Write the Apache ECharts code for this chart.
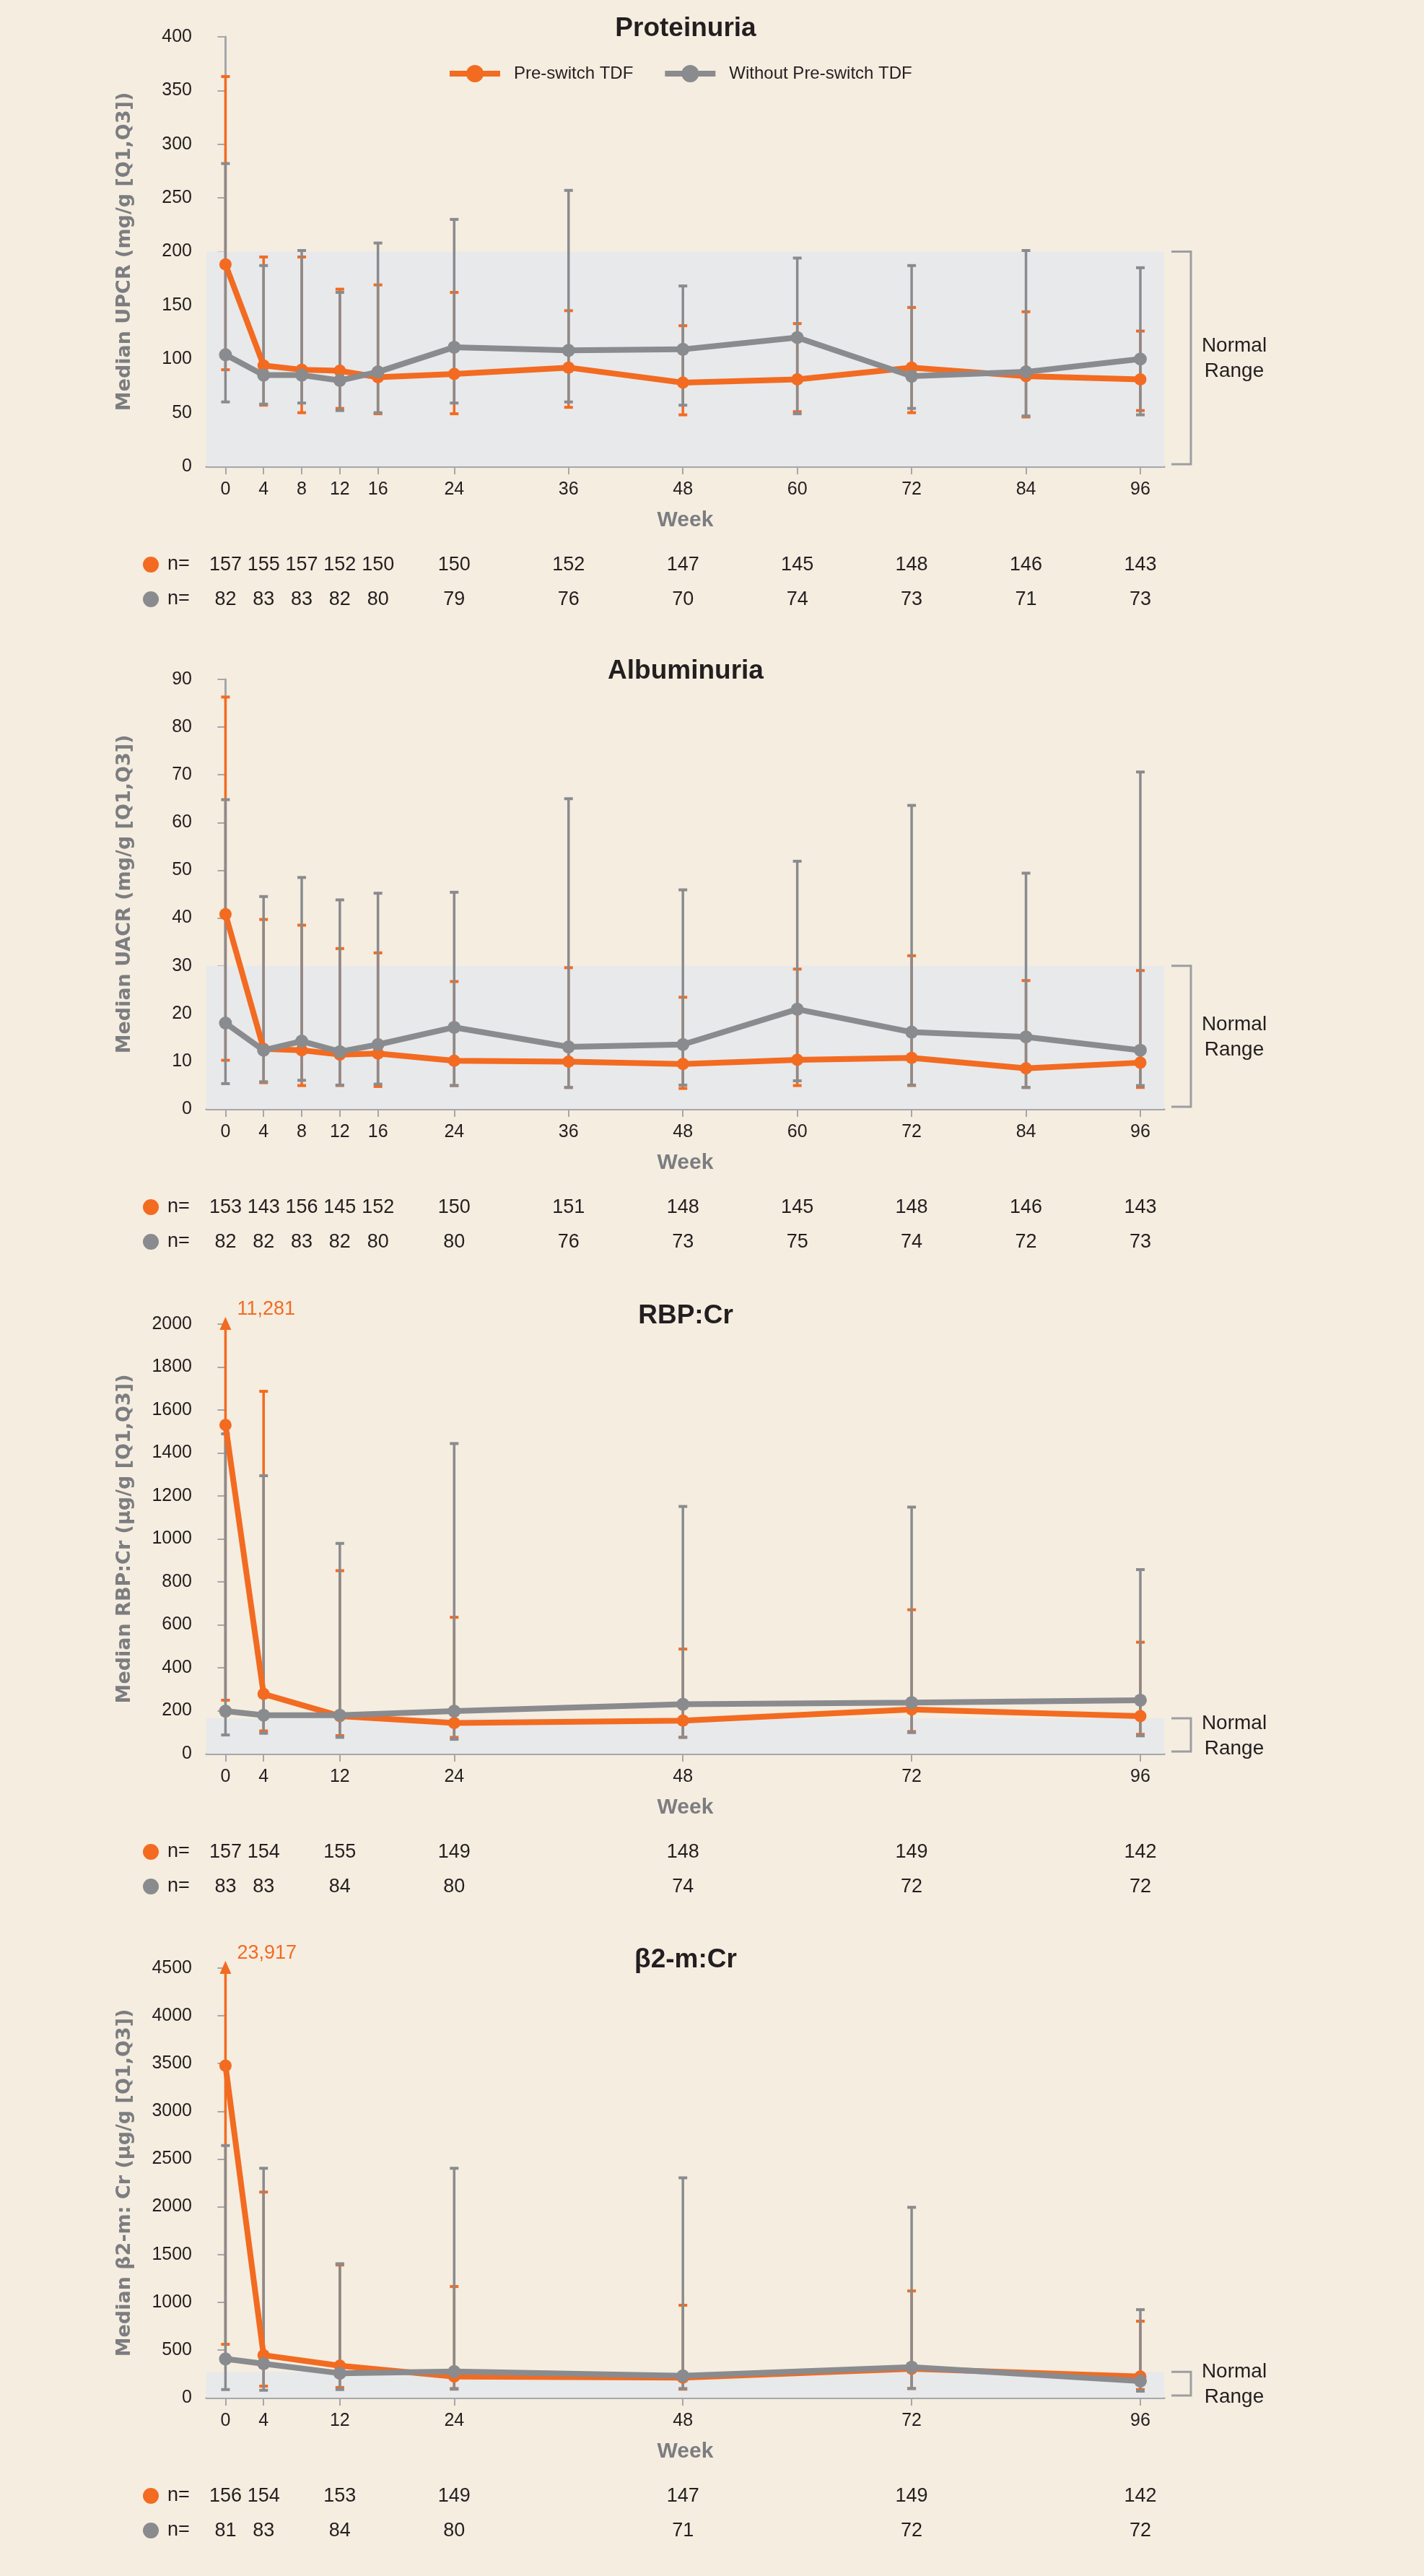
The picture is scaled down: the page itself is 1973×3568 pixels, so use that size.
<!DOCTYPE html>
<html>
<head>
<meta charset="utf-8">
<script src="https://cdn.jsdelivr.net/npm/echarts@6/dist/echarts.min.js"></script>
<style>
  html, body { margin: 0; padding: 0; background: #f5ede0; }
  #chart { width: 1973px; height: 3568px; }
</style>
</head>
<body>
<div id="chart"></div>
<script>
// weeks on the x axis
const weeksLong = [0, 4, 8, 12, 16, 24, 36, 48, 60, 72, 84, 96]
const weeksShort = [0, 4, 12, 24, 48, 72, 96]

// Proteinuria (UPCR, mg/g)
const upcrPreMed = [188, 94, 90, 89, 83, 86, 92, 78, 81, 92, 84, 81]
const upcrPreQ1 = [90, 57, 50, 54, 49, 49, 55, 48, 51, 50, 46, 52]
const upcrPreQ3 = [363, 195, 195, 165, 169, 162, 145, 131, 133, 148, 144, 126]
const upcrNoMed = [104, 85, 85, 80, 88, 111, 108, 109, 120, 84, 88, 100]
const upcrNoQ1 = [60, 58, 59, 52, 50, 59, 60, 57, 49, 54, 47, 48]
const upcrNoQ3 = [282, 187, 201, 162, 208, 230, 257, 168, 194, 187, 201, 185]
const upcrPreN = [157, 155, 157, 152, 150, 150, 152, 147, 145, 148, 146, 143]
const upcrNoN = [82, 83, 83, 82, 80, 79, 76, 70, 74, 73, 71, 73]

// Albuminuria (UACR, mg/g)
const uacrPreMed = [40.8, 12.6, 12.3, 11.4, 11.6, 10.1, 9.9, 9.4, 10.3, 10.7, 8.5, 9.7]
const uacrPreQ1 = [10.2, 5.5, 4.9, 4.9, 4.7, 4.9, 4.5, 4.3, 4.9, 4.9, 4.5, 4.5]
const uacrPreQ3 = [86.3, 39.7, 38.5, 33.6, 32.7, 26.7, 29.6, 23.4, 29.3, 32.1, 26.9, 29]
const uacrNoMed = [18, 12.3, 14.2, 12, 13.5, 17.1, 13, 13.5, 20.9, 16.1, 15.1, 12.3]
const uacrNoQ1 = [5.3, 5.7, 6, 5, 5.2, 4.9, 4.5, 5, 5.9, 5, 4.5, 4.9]
const uacrNoQ3 = [64.8, 44.5, 48.5, 43.8, 45.2, 45.4, 65, 45.9, 51.9, 63.6, 49.4, 70.6]
const uacrPreN = [153, 143, 156, 145, 152, 150, 151, 148, 145, 148, 146, 143]
const uacrNoN = [82, 82, 83, 82, 80, 80, 76, 73, 75, 74, 72, 73]

// RBP:Cr (µg/g)
const rbpPreMed = [1530, 278, 175, 143, 154, 206, 175]
const rbpPreQ1 = [249, 106, 84, 76, 76, 103, 90]
const rbpPreQ3 = [11281, 1687, 852, 635, 487, 670, 519]
const rbpNoMed = [198, 179, 179, 198, 230, 238, 249]
const rbpNoQ1 = [87, 95, 76, 67, 76, 98, 83]
const rbpNoQ3 = [1489, 1294, 979, 1444, 1151, 1148, 857]
const rbpPreN = [157, 154, 155, 149, 148, 149, 142]
const rbpNoN = [83, 83, 84, 80, 74, 72, 72]

// beta2-m:Cr (µg/g)
const b2mPreMed = [3478, 445, 335, 221, 210, 303, 221]
const b2mPreQ1 = [559, 121, 107, 96, 89, 96, 85]
const b2mPreQ3 = [23917, 2154, 1390, 1164, 968, 1118, 801]
const b2mNoMed = [406, 356, 256, 274, 228, 320, 174]
const b2mNoQ1 = [85, 78, 85, 89, 96, 96, 68]
const b2mNoQ3 = [2641, 2403, 1403, 2403, 2303, 1994, 922]
const b2mPreN = [156, 154, 153, 149, 147, 149, 142]
const b2mNoN = [81, 83, 84, 80, 71, 72, 72]

// upper limit of the normal range per panel
const normalTop = [200, 30, 165, 270]

const ORANGE = '#f26b21'
const GRAY = '#8a8b8e'
const AXIS = '#a6a7aa'
const TEXT = '#231f20'
const NAMEGRAY = '#7c7d80'
const FONT = '"Liberation Sans", Arial, sans-serif'
const PRE = 'Pre-switch TDF'
const NOPRE = 'Without Pre-switch TDF'

const panels = [
  { title: 'Proteinuria', yName: 'Median UPCR (mg/g [Q1,Q3])', max: 400, step: 50, weeks: weeksLong,
    pre: [upcrPreMed, upcrPreQ1, upcrPreQ3, upcrPreN], no: [upcrNoMed, upcrNoQ1, upcrNoQ3, upcrNoN] },
  { title: 'Albuminuria', yName: 'Median UACR (mg/g [Q1,Q3])', max: 90, step: 10, weeks: weeksLong,
    pre: [uacrPreMed, uacrPreQ1, uacrPreQ3, uacrPreN], no: [uacrNoMed, uacrNoQ1, uacrNoQ3, uacrNoN] },
  { title: 'RBP:Cr', yName: 'Median RBP:Cr (µg/g [Q1,Q3])', max: 2000, step: 200, weeks: weeksShort,
    pre: [rbpPreMed, rbpPreQ1, rbpPreQ3, rbpPreN], no: [rbpNoMed, rbpNoQ1, rbpNoQ3, rbpNoN] },
  { title: 'β2-m:Cr', yName: 'Median β2-m: Cr (µg/g [Q1,Q3])', max: 4500, step: 500, weeks: weeksShort,
    pre: [b2mPreMed, b2mPreQ1, b2mPreQ3, b2mPreN], no: [b2mNoMed, b2mNoQ1, b2mNoQ3, b2mNoN] }
]

const gridTops = [51, 941, 1834, 2726]
const GRID_H = 595
const GRID_LEFT = 286
const GRID_RIGHT = 360
const X_MIN = -2
const X_MAX = 98.5

// error bar: vertical line with caps; arrow + value label when Q3 is off the axis
const errorBar = (color, yMax) => (params, api) => {
  const x = api.coord([api.value(0), 0])[0]
  const q1 = api.value(1)
  const q3 = api.value(2)
  const yLo = api.coord([0, q1])[1]
  const over = q3 > yMax
  const yHi = api.coord([0, over ? yMax : q3])[1]
  const children = [
    { type: 'line', shape: { x1: x, y1: yLo, x2: x, y2: yHi }, style: { stroke: color, lineWidth: 3.5 } },
    { type: 'line', shape: { x1: x - 6, y1: yLo, x2: x + 6, y2: yLo }, style: { stroke: color, lineWidth: 4 } }
  ]
  if (over) {
    children.push({
      type: 'polygon',
      shape: { points: [[x, yHi - 10], [x - 8, yHi + 8], [x + 8, yHi + 8]] },
      style: { fill: color }
    })
    children.push({
      type: 'text', x: x + 16, y: yHi - 20,
      style: { text: q3.toLocaleString('en-US'), fill: color, fontSize: 27, fontFamily: FONT, align: 'left', verticalAlign: 'middle' }
    })
  } else {
    children.push({ type: 'line', shape: { x1: x - 6, y1: yHi, x2: x + 6, y2: yHi }, style: { stroke: color, lineWidth: 4 } })
  }
  return { type: 'group', children }
}

const grids = []
const xAxes = []
const yAxes = []
const series = []

panels.forEach((p, i) => {
  grids.push({ left: GRID_LEFT, right: GRID_RIGHT, top: gridTops[i], height: GRID_H })

  xAxes.push({
    type: 'value', gridIndex: i, min: X_MIN, max: X_MAX,
    axisLine: { lineStyle: { color: AXIS, width: 3 } },
    axisTick: { show: true, customValues: p.weeks, length: 11, lineStyle: { color: AXIS, width: 2 } },
    axisLabel: { customValues: p.weeks, margin: 20, fontSize: 25, color: TEXT, fontFamily: FONT },
    splitLine: { show: false },
    name: 'Week', nameLocation: 'middle', nameGap: 60,
    nameTextStyle: { fontSize: 30, fontWeight: 'bold', color: NAMEGRAY, fontFamily: FONT }
  })
  ;[[p.pre[3], 115], [p.no[3], 163]].forEach(([nArr, off]) => {
    xAxes.push({
      type: 'value', gridIndex: i, min: X_MIN, max: X_MAX, position: 'bottom', offset: off,
      axisLine: { show: false }, axisTick: { show: false }, splitLine: { show: false },
      axisLabel: {
        customValues: p.weeks, margin: 8, fontSize: 27, color: TEXT, fontFamily: FONT,
        formatter: v => String(nArr[p.weeks.indexOf(v)])
      }
    })
  })

  yAxes.push({
    type: 'value', gridIndex: i, min: 0, max: p.max, interval: p.step,
    axisLine: { show: true, lineStyle: { color: AXIS, width: 3 } },
    axisTick: { show: true, length: 11, lineStyle: { color: AXIS, width: 2 } },
    axisLabel: { margin: 20, fontSize: 25, color: TEXT, fontFamily: FONT, formatter: v => String(v) },
    splitLine: { show: false },
    name: p.yName, nameLocation: 'middle', nameRotate: 90, nameGap: 100,
    nameTextStyle: { fontSize: 27, fontWeight: 'bold', color: NAMEGRAY, fontFamily: '"DejaVu Sans", sans-serif' }
  })

  const xi = i * 3
  // normal range band
  series.push({
    type: 'line', xAxisIndex: xi, yAxisIndex: i, data: [], silent: true, z: 0,
    markArea: {
      silent: true,
      itemStyle: { color: '#e8e9eb' },
      data: [[{ xAxis: X_MIN, yAxis: 0 }, { xAxis: X_MAX, yAxis: normalTop[i] }]]
    }
  })
  series.push({
    type: 'custom', xAxisIndex: xi, yAxisIndex: i, clip: false, z: 2,
    renderItem: errorBar(ORANGE, p.max),
    data: p.weeks.map((w, k) => [w, p.pre[1][k], p.pre[2][k]])
  })
  series.push({
    type: 'custom', xAxisIndex: xi, yAxisIndex: i, clip: false, z: 3,
    renderItem: errorBar(GRAY, p.max),
    data: p.weeks.map((w, k) => [w, p.no[1][k], p.no[2][k]])
  })
  series.push({
    name: PRE, type: 'line', xAxisIndex: xi, yAxisIndex: i, z: 4,
    symbol: 'circle', symbolSize: 17, color: ORANGE,
    lineStyle: { width: 8, color: ORANGE },
    data: p.weeks.map((w, k) => [w, p.pre[0][k]])
  })
  series.push({
    name: NOPRE, type: 'line', xAxisIndex: xi, yAxisIndex: i, z: 5,
    symbol: 'circle', symbolSize: 18, color: GRAY,
    lineStyle: { width: 8, color: GRAY },
    data: p.weeks.map((w, k) => [w, p.no[0][k]])
  })
})

const chart = echarts.init(document.getElementById('chart'))
chart.setOption({
  animation: false,
  backgroundColor: '#f5ede0',
  textStyle: { fontFamily: FONT },
  legend: {
    data: [PRE, NOPRE], left: 614, top: 85,
    itemWidth: 70, itemHeight: 30, itemGap: 40,
    lineStyle: { width: 8 },
    textStyle: { fontSize: 24, color: TEXT, fontFamily: FONT, padding: [0, 0, 0, 14] }
  },
  grid: grids,
  xAxis: xAxes,
  yAxis: yAxes,
  series
})

// titles, n= row markers, normal-range brackets
const graphic = []
panels.forEach((p, i) => {
  const top = gridTops[i]
  const bottom = top + GRID_H
  graphic.push({
    type: 'text', x: 950, y: top - 11,
    style: { text: p.title, fill: TEXT, fontSize: 37, fontWeight: 'bold', fontFamily: FONT, align: 'center', verticalAlign: 'middle' }
  })
  ;[[ORANGE, 136], [GRAY, 184]].forEach(([c, dy]) => {
    graphic.push({ type: 'circle', shape: { cx: 209, cy: bottom + dy, r: 11 }, style: { fill: c } })
    graphic.push({
      type: 'text', x: 232, y: bottom + dy,
      style: { text: 'n=', fill: TEXT, fontSize: 27, fontFamily: FONT, align: 'left', verticalAlign: 'middle' }
    })
  })
  const bandY = chart.convertToPixel({ gridIndex: i }, [X_MAX, normalTop[i]])[1]
  const x0 = 1973 - GRID_RIGHT + 10
  const x1 = x0 + 27
  graphic.push({
    type: 'polyline',
    shape: { points: [[x0, bandY], [x1, bandY], [x1, bottom - 3], [x0, bottom - 3]] },
    style: { stroke: '#9d9ea1', lineWidth: 3, fill: null }
  })
  graphic.push({
    type: 'text', x: x1 + 60, y: (bandY + bottom) / 2,
    style: { text: 'Normal\nRange', fill: TEXT, fontSize: 28, lineHeight: 35, fontFamily: FONT, align: 'center', verticalAlign: 'middle' }
  })
})
chart.setOption({ graphic })
</script>
</body>
</html>
